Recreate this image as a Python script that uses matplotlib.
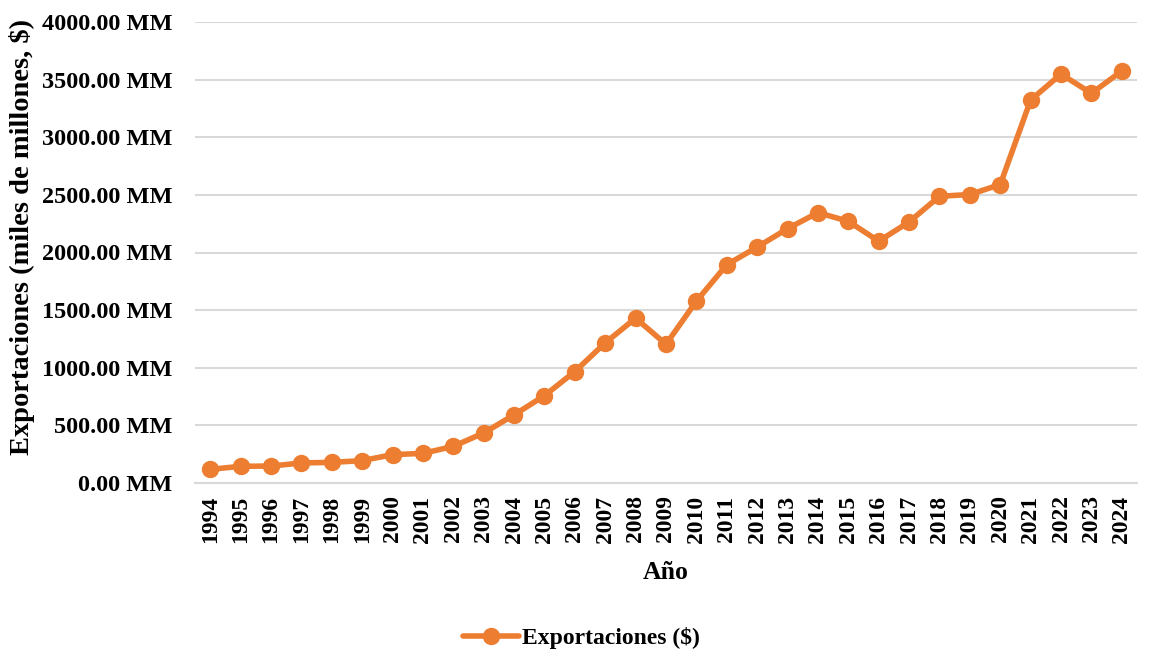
import matplotlib
matplotlib.use("Agg")
import matplotlib.pyplot as plt
from matplotlib.ticker import FuncFormatter, MultipleLocator

years = list(range(1994, 2025))
exports = [118, 145, 147, 174, 179, 194, 246, 257, 318, 434, 591, 758, 967, 1216,
           1430, 1204, 1578, 1894, 2047, 2207, 2346, 2271, 2098, 2265, 2488, 2503,
           2590, 3323, 3548, 3381, 3575]
series_name = "Exportaciones ($)"
xlabel = "Año"
ylabel = "Exportaciones (miles de millones, $)"

color = "#ED7D31"
plt.rcParams['font.family'] = ['Liberation Serif', 'DejaVu Serif']
plt.rcParams['font.weight'] = 'bold'

fig = plt.figure(figsize=(11.51, 6.53), dpi=100)
ax = fig.add_axes([195/1151, 1 - 483/653, (1137-195)/1151, (483-22)/653])

xs = list(range(len(years)))
ax.plot(xs, exports, color=color, lw=4, marker='o', markersize=11.5,
        label=series_name, solid_capstyle='round', zorder=3)

ax.set_xlim(-0.5, len(years) - 0.5)
ax.set_ylim(0, 4000)
ax.yaxis.set_major_locator(MultipleLocator(500))
ax.yaxis.set_major_formatter(FuncFormatter(lambda v, p: f"{v:.2f} MM"))
ax.set_xticks(xs)
ax.set_xticklabels([str(y) for y in years], rotation=90, fontsize=17, fontweight='bold')
for lab in ax.get_yticklabels():
    lab.set_fontsize(17.5)
    lab.set_fontweight('bold')

ax.grid(axis='y', color='#D9D9D9', lw=1.5, zorder=0)
ax.set_axisbelow(True)
for s in ['top', 'right', 'left']:
    ax.spines[s].set_visible(False)
ax.spines['bottom'].set_color('#D9D9D9')
ax.spines['bottom'].set_linewidth(1.5)
ax.tick_params(axis='both', length=0)
ax.tick_params(axis='x', pad=9)
ax.tick_params(axis='y', pad=16.5)

ax.set_xlabel(xlabel, fontsize=18.5, fontweight='bold', labelpad=13)
fig.text(22/1151, 1 - 237/653, ylabel, rotation=90, ha='center', va='center',
         fontsize=20.5, fontweight='bold')

leg = fig.legend(loc='center', bbox_to_anchor=(0.505, 1 - 638/653), frameon=False,
                 prop={'size': 17, 'weight': 'bold'}, handlelength=2.4, handletextpad=0.1)

fig.savefig("out.png", dpi=100)
